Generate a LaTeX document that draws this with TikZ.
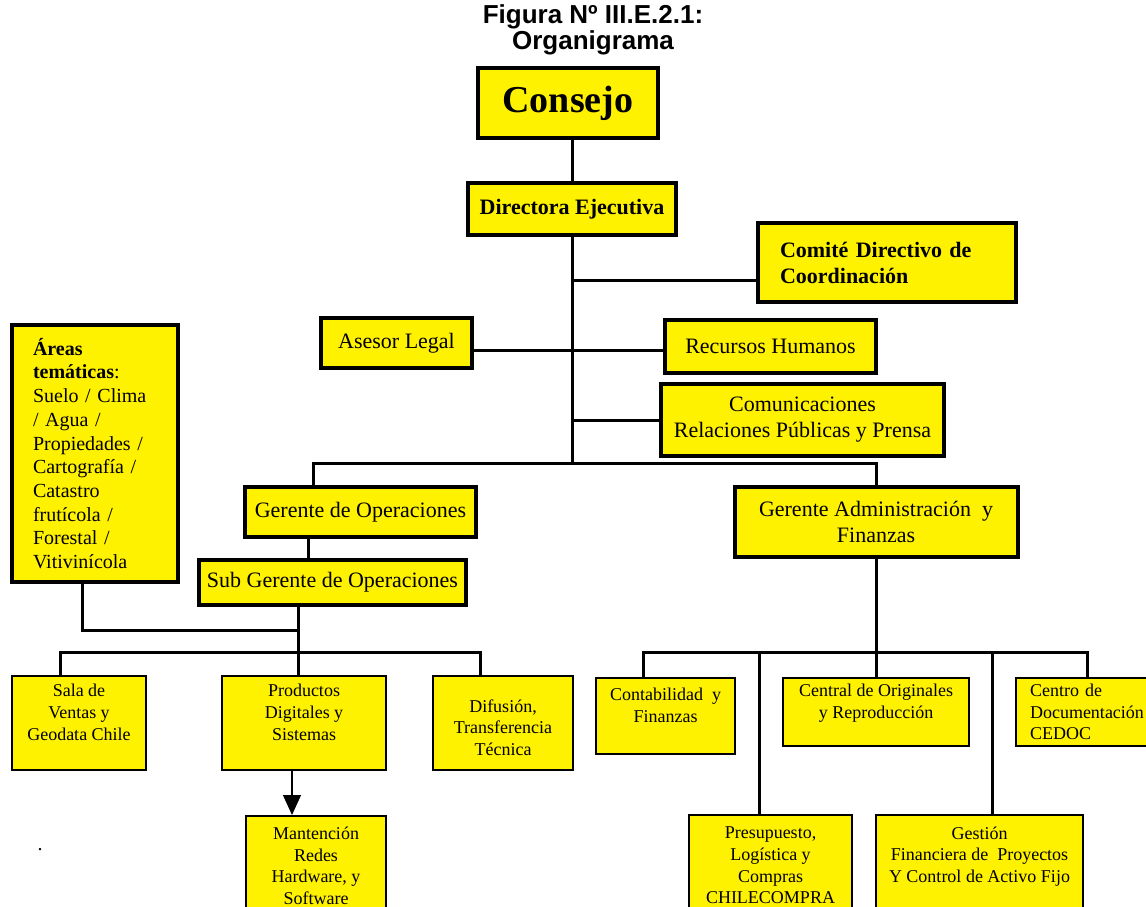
\documentclass[tikz,border=0pt]{standalone}
\usepackage{fontspec}
\setmainfont{Liberation Serif}
\newfontfamily\titlefont{Liberation Sans}
\usetikzlibrary{arrows.meta}
\tikzset{
  px/.style 2 args={minimum width=#1*0.5pt, minimum height=#2*0.5pt},
  bigbox/.style={draw, line width=2pt, fill=yellow, inner sep=0pt, align=center, font=\fontsize{11}{13}\selectfont},
  smallbox/.style={draw, line width=1pt, fill=yellow, inner sep=0pt, align=center, font=\fontsize{9}{10.8}\selectfont},
  link/.style={line width=1.5pt},
}
\begin{document}
\begin{tikzpicture}[x=0.5pt, y=-0.5pt]
	\clip (0,0) rectangle (1146,906);

	%title
	\node[align=center, font=\titlefont\fontsize{13}{11}\selectfont\bfseries] (titulo) at (593,30) {Figura Nº III.E.2.1:\\Organigrama};

	%direccion
	\node[bigbox, px={180}{70}, font=\fontsize{19}{22}\selectfont\bfseries] (consejo) at (568,103) {Consejo};
	\node[bigbox, px={208}{52}, font=\fontsize{11}{13}\selectfont\bfseries] (directora) at (572,209) {Directora Ejecutiva};
	\node[bigbox, px={258}{79}, text width=107pt, align=left, font=\fontsize{11}{13}\selectfont\bfseries] (comite) at (887,262.5) {Comité Directivo de\\Coordinación};
	\node[bigbox, px={151}{50}] (asesor) at (396.5,343) {Asesor Legal};
	\node[bigbox, px={211}{53}] (rrhh) at (770.5,346.5) {Recursos Humanos};
	\node[bigbox, px={283}{72}] (comunic) at (802.5,420) {Comunicaciones\\Relaciones Públicas y Prensa};

	%gerencias
	\node[bigbox, px={231}{50}] (gop) at (360.5,512) {Gerente de Operaciones};
	\node[bigbox, px={267}{45}] (sgo) at (332.5,582.5) {Sub Gerente de Operaciones};
	\node[bigbox, px={283}{70}] (gaf) at (876,522) {Gerente Administración~ y\\Finanzas};
	\node[bigbox, px={166}{257}, text width=62pt, align=left, font=\fontsize{10}{11.85}\selectfont] (areas) at (95,453.5)
		{\textbf{Áreas}\\\textbf{temáticas}:\\Suelo / Clima\\/ Agua /\\Propiedades /\\Cartografía /\\Catastro\\frutícola /\\Forestal /\\Vitivinícola};

	%operaciones
	\node[smallbox, px={134}{94}] (sala) at (79,723) {Sala de\\Ventas y\\Geodata Chile\\\mbox{}};
	\node[smallbox, px={164}{94}] (prod) at (304,723) {Productos\\Digitales y\\Sistemas\\\mbox{}};
	\node[smallbox, px={140}{94}] (difusion) at (503,723) {\mbox{}\\Difusión,\\Transferencia\\Técnica};
	\node[smallbox, px={140}{100}] (mant) at (316,866) {Mantención\\Redes\\Hardware, y\\Software};
	\node[inner sep=0pt] (punto) at (40,850) {.};

	%administracion
	\node[smallbox, px={139}{76}] (conta) at (665.5,716) {Contabilidad~ y\\Finanzas\\\mbox{}};
	\node[smallbox, px={186}{68}] (central) at (876,712) {Central de Originales\\y Reproducción\\\mbox{}};
	\node[smallbox, px={150}{68}, text width=61pt, align=left] (centro) at (1091,712) {Centro de\\Documentación\\CEDOC};
	\node[smallbox, px={163}{101}] (presu) at (770.5,865.5) {Presupuesto,\\Logística y\\Compras\\CHILECOMPRA};
	\node[smallbox, px={207}{101}] (gestion) at (979.5,865.5) {Gestión\\Financiera de~ Proyectos\\Y Control de Activo Fijo\\\mbox{}};

	%lines
	\coordinate (top) at (572,463);
	\coordinate (opdrop) at (313,463);
	\coordinate (lowL) at (298,652);
	\coordinate (areasjoin) at (298,630);
	\coordinate (lowR) at (876,652);

	\draw[link] (consejo.south -| directora.north) -- (directora.north);
	\draw[link] (directora.south) -- (top);
	\draw[link] (comite.west |- 0,280) -- (top |- 0,280);
	\draw[link] (asesor.east |- 0,350) -- (rrhh.west |- 0,350);
	\draw[link] (comunic.west) -- (comunic.west -| top);
	\draw[link] (opdrop |- gop.north) -- (opdrop) -- (top) -| (gaf.north);
	\draw[link] (gop.south -| 308,0) -- (sgo.north -| 308,0);
	\draw[link] (sgo.south -| lowL) -- (lowL);
	\draw[link] (areas.south -| 82,0) |- (areasjoin);
	\draw[link] (sala.north -| 60,0) |- (lowL) -| (difusion.north -| 480,0);
	\draw[link] (lowL) -- (prod.north -| lowL);
	\draw[line width=0.6pt, -{Triangle[width=9pt,length=10pt]}] (prod.south -| 292,0) -- (mant.north -| 292,0);

	\draw[link] (gaf.south) -- (lowR);
	\draw[link] (conta.north -| 643,0) |- (lowR) -| (centro.north -| 1087,0);
	\draw[link] (lowR) -- (central.north);
	\draw[link] (lowR -| 759,0) -- (presu.north -| 759,0);
	\draw[link] (lowR -| 992,0) -- (gestion.north -| 992,0);
\end{tikzpicture}
\end{document}
